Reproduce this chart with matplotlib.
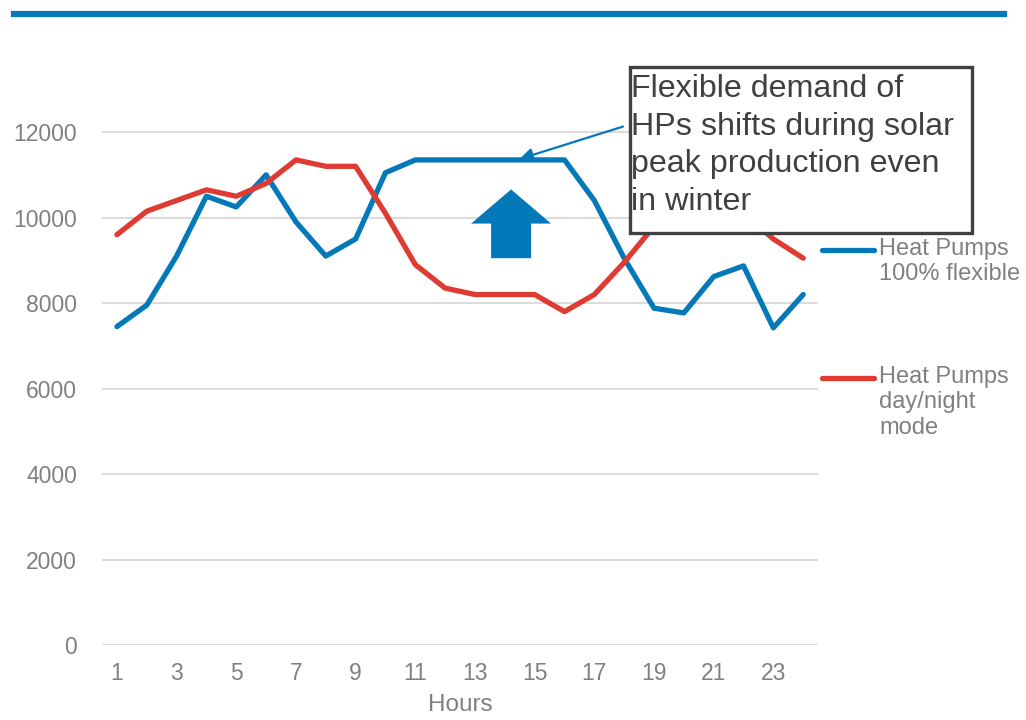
import matplotlib.pyplot as plt
from matplotlib.lines import Line2D
from matplotlib.patches import Rectangle, FancyArrow

plt.rcParams['font.family'] = ['Liberation Sans', 'DejaVu Sans']

hours = list(range(1, 25))
hp_flexible = [7450, 7950, 9100, 10500, 10250, 11000, 9900, 9100, 9500, 11050, 11350, 11350,
               11350, 11350, 11350, 11350, 10400, 9050, 7880, 7770, 8620, 8870, 7420, 8200]
hp_daynight = [9600, 10150, 10400, 10650, 10500, 10800, 11350, 11200, 11200, 10100, 8900, 8350,
               8200, 8200, 8200, 7800, 8200, 8950, 9800, 10300, 10500, 10100, 9500, 9050]
xtick_labels = [1, 3, 5, 7, 9, 11, 13, 15, 17, 19, 21, 23]
yticks = [0, 2000, 4000, 6000, 8000, 10000, 12000]
series_names = ["Heat Pumps\n100% flexible", "Heat Pumps\nday/night\nmode"]
note = "Flexible demand of\nHPs shifts during solar\npeak production even\nin winter"

blue = '#0479B9'
red = '#DF3B32'
grey = '#808080'

fig = plt.figure(figsize=(10.26, 7.2), dpi=100)
ax = fig.add_axes([0.0994, 0.1042, 0.698, 0.831])

ax.plot(hours, hp_flexible, color=blue, lw=3.8, solid_capstyle='round', zorder=3)
ax.plot(hours, hp_daynight, color=red, lw=3.8, solid_capstyle='round', zorder=3)

ax.set_xlim(0.5, 24.5)
ax.set_ylim(0, 14000)
ax.set_yticks(yticks)
ax.set_xticks(xtick_labels)
ax.grid(axis='y', color='#D9D9D9', lw=1.3)
ax.set_axisbelow(True)
for s in ax.spines.values():
    s.set_visible(False)
ax.tick_params(length=0, labelsize=16.5, labelcolor=grey, pad=12)
ax.tick_params(axis='y', pad=18)
ax.set_xlabel("Hours", fontsize=17.5, color=grey, labelpad=7)

# big up arrow
ax.add_patch(FancyArrow(14.21, 9050, 0, 1610, width=1.34, head_width=2.68,
                        head_length=800, length_includes_head=True,
                        color=blue, lw=0, zorder=4))

# annotation box
fig.add_artist(Rectangle((630 / 1026, 1 - 233 / 720), 342 / 1026, 166 / 720,
                         transform=fig.transFigure, facecolor='white',
                         edgecolor='#404040', lw=2.4, zorder=5))
fig.text(631 / 1026, 1 - 74 / 720, note, fontsize=23.2, color='#404040',
         ha='left', va='top', linespacing=1.33, zorder=6)
ax.annotate('', xy=(14.4, 11350), xytext=(18.05, 12150),
            arrowprops=dict(arrowstyle='-|>', color=blue, lw=1.6, mutation_scale=20),
            zorder=4)

# legend
for y, c, name in [(250, blue, series_names[0]), (378, red, series_names[1])]:
    fig.add_artist(Line2D([822 / 1026, 874 / 1026], [1 - y / 720] * 2,
                          transform=fig.transFigure, color=c, lw=3.8,
                          solid_capstyle='round'))
    fig.text(879 / 1026, 1 - (y - 12) / 720, name, fontsize=17, color=grey,
             ha='left', va='top', linespacing=1.2)

# top rule
fig.add_artist(Line2D([14 / 1026, 1004 / 1026], [1 - 14 / 720] * 2,
                      transform=fig.transFigure, color='#0479B9', lw=4.5))

fig.savefig('out.png', dpi=100)
